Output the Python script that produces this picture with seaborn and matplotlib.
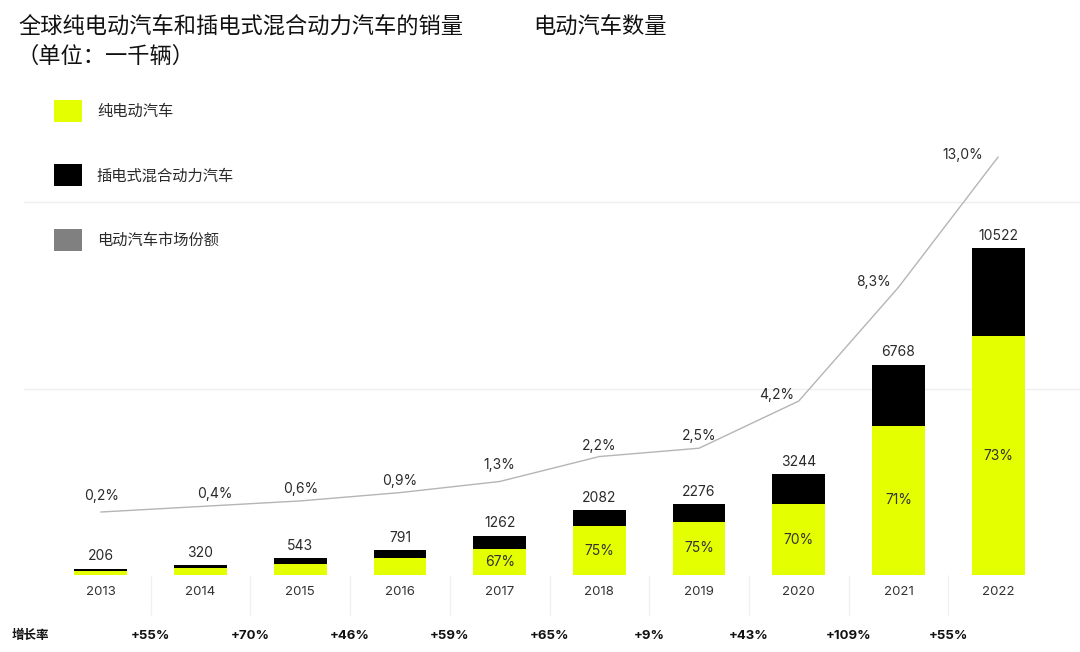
import numpy as np
import pandas as pd
import matplotlib
matplotlib.use('Agg')
import matplotlib.pyplot as plt
import matplotlib.transforms as mtransforms
from matplotlib.patches import Patch
import seaborn as sns

# ------------------ Data ------------------
years = ['2013', '2014', '2015', '2016', '2017', '2018', '2019', '2020', '2021', '2022']
total = [206, 320, 543, 791, 1262, 2082, 2276, 3244, 6768, 10522]
bev = [134, 224, 348, 554, 846, 1562, 1707, 2271, 4805, 7681]
bev_share_labels = ['', '', '', '', '67%', '75%', '75%', '70%', '71%', '73%']
ev_share = [0.2, 0.4, 0.6, 0.9, 1.3, 2.2, 2.5, 4.2, 8.3, 13.0]
growth = ['+55%', '+70%', '+46%', '+59%', '+65%', '+9%', '+43%', '+109%', '+55%']

# ------------------ Style ------------------
sns.set_theme(style='white')
plt.rcParams['font.family'] = ['Inter', 'Noto Sans CJK SC', 'DejaVu Sans']

YELLOW = '#e4ff00'
BLACK = '#000000'
GREY = '#808080'
TXT = '#2a2a2a'

fig = plt.figure(figsize=(10.8, 6.52), dpi=100)
ax = fig.add_axes([51 / 1080, 1 - 575 / 652, 997 / 1080, 435 / 652])

# faint gridlines reaching beyond the axes
for gy in [6000, 12000]:
    ax.axhline(gy, xmin=-0.027, xmax=1.04, color='#efefef', lw=1, clip_on=False, zorder=0)

# stacked bars: total (black, PHEV on top) and BEV (yellow) overlaid
sns.barplot(x=years, y=total, color=BLACK, saturation=1, width=0.53, linewidth=0, ax=ax, zorder=2)
sns.barplot(x=years, y=bev, color=YELLOW, saturation=1, width=0.53, linewidth=0, ax=ax, zorder=3)
ax.set_ylim(0, 14000)
ax.set_xlim(-0.5, 9.5)
ax.set_xlabel('')
ax.set_ylabel('')
ax.set_yticks([])
ax.tick_params(axis='x', length=0, pad=8, labelsize=9.5, labelcolor='#333333')
for s in ax.spines.values():
    s.set_visible(False)

# total labels above bars, BEV share labels inside the yellow part
for i, (t, b, lab) in enumerate(zip(total, bev, bev_share_labels)):
    ax.annotate(str(t), (i, t), xytext=(0, 4), textcoords='offset points',
                ha='center', va='bottom', fontsize=10, color=TXT, zorder=5)
    if lab:
        ax.text(i, b / 2, lab, ha='center', va='center', fontsize=10, color='#333333', zorder=5)

# category separators below the axis
sep_tr = mtransforms.blended_transform_factory(ax.transData, ax.transAxes)
ax.vlines(np.arange(0.5, 9, 1), -0.092, 0, transform=sep_tr, color='#f0f0f0', lw=1, clip_on=False)

# market share line on a twin axis
ax2 = ax.twinx()
sns.lineplot(x=np.arange(len(years)), y=ev_share, color='#b5b5b5', lw=1, ax=ax2)
ax2.set_ylim(-2.07, 13.61)
ax2.set_yticks([])
ax2.set_ylabel('')
for s in ax2.spines.values():
    s.set_visible(False)

share_offsets = [(1, 16), (14, 12), (0, 12), (0, 12), (0, 17), (0, 11), (0, 12),
                 (-22, 6), (-25, 5), (-35, 2)]
for i, (v, (dx, dy)) in enumerate(zip(ev_share, share_offsets)):
    ax2.annotate(f'{v:.1f}%'.replace('.', ','), (i, v), xytext=(dx * 0.72, dy * 0.72),
                 textcoords='offset points', ha='center', va='center', fontsize=10, color=TXT)

# growth row
gr_tr = mtransforms.blended_transform_factory(ax.transData, fig.transFigure)
for i, g in enumerate(growth):
    ax.text(i + 0.5, 1 - 636 / 652, g, transform=gr_tr, ha='center', va='center',
            fontsize=9.5, fontweight='bold', color='#111111')
fig.text(12 / 1080, 1 - 636 / 652, '增长率', ha='left', va='center', fontsize=9,
         fontweight='bold', color='#111111')

# titles
fig.text(18 / 1080, 1 - 27 / 652, '全球纯电动汽车和插电式混合动力汽车的销量', ha='left', va='center',
         fontsize=16, color='#111111')
fig.text(16 / 1080, 1 - 56 / 652, '（单位：一千辆）', ha='left', va='center',
         fontsize=16, color='#111111')
fig.text(533 / 1080, 1 - 27 / 652, '电动汽车数量', ha='left', va='center',
         fontsize=16, color='#111111')

# legend
handles = [Patch(facecolor=YELLOW, edgecolor='none'),
           Patch(facecolor=BLACK, edgecolor='none'),
           Patch(facecolor=GREY, edgecolor='none')]
labels = ['纯电动汽车', '插电式混合动力汽车', '电动汽车市场份额']
fig.legend(handles, labels, loc='upper left', bbox_to_anchor=(54 / 1080, 1 - 100 / 652),
           frameon=False, fontsize=11, handlelength=1.83, handleheight=1.83,
           handletextpad=0.98, labelspacing=2.78, borderpad=0, borderaxespad=0,
           labelcolor=TXT)

fig.savefig('out.png', dpi=100)
